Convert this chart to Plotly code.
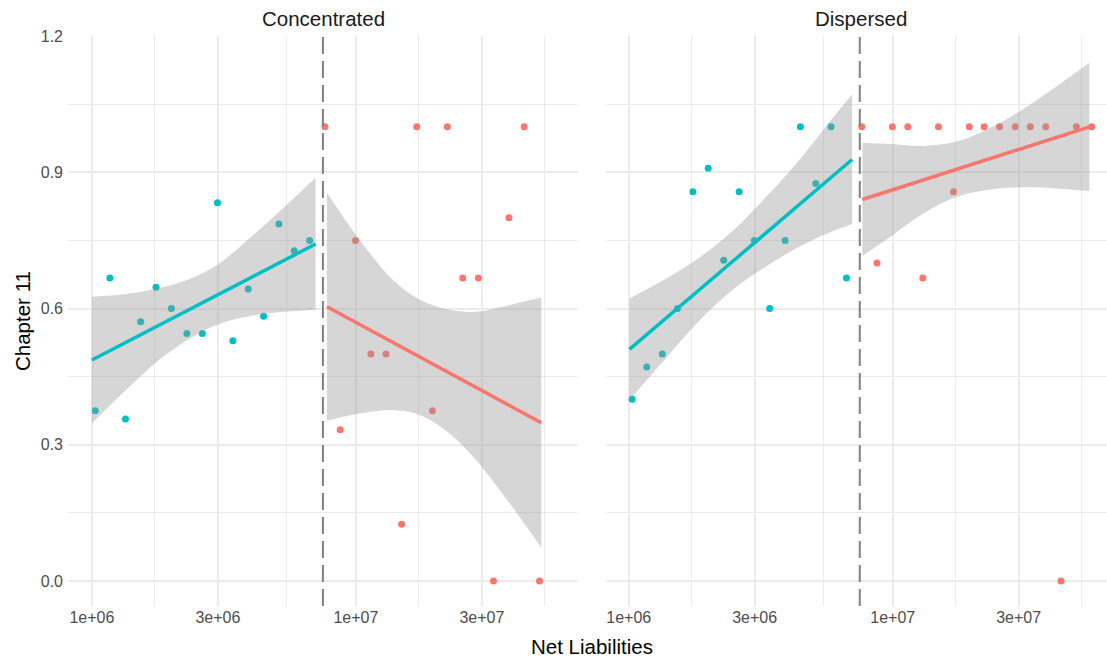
import numpy as np
import plotly.graph_objects as go

# ---- data -------------------------------------------------------------
CUTOFF = 7.5e6  # net-liabilities threshold

# binned net liabilities (bin centres, USD)
bins_conc = [1.03e6, 1.17e6, 1.34e6, 1.53e6, 1.75e6, 2.00e6, 2.29e6, 2.62e6,
             2.99e6, 3.42e6, 3.91e6, 4.47e6, 5.11e6, 5.84e6, 6.68e6,
             7.63e6, 8.72e6, 9.97e6, 1.14e7, 1.30e7, 1.49e7, 1.70e7, 1.95e7,
             2.22e7, 2.54e7, 2.91e7, 3.32e7, 3.80e7, 4.34e7, 4.96e7]
share_conc = [0.375, 0.667, 0.357, 0.571, 0.647, 0.600, 0.545, 0.545,
              0.833, 0.529, 0.643, 0.583, 0.786, 0.727, 0.750,
              1.000, 0.333, 0.750, 0.500, 0.500, 0.125, 1.000, 0.375,
              1.000, 0.667, 0.667, 0.000, 0.800, 1.000, 0.000]

bins_disp = [1.03e6, 1.17e6, 1.34e6, 1.53e6, 1.75e6, 2.00e6, 2.29e6, 2.62e6,
             2.99e6, 3.42e6, 3.91e6, 4.47e6, 5.11e6, 5.84e6, 6.68e6,
             7.63e6, 8.72e6, 9.97e6, 1.14e7, 1.30e7, 1.49e7, 1.70e7, 1.95e7,
             2.22e7, 2.54e7, 2.91e7, 3.32e7, 3.80e7, 4.34e7, 4.96e7, 5.67e7]
share_disp = [0.400, 0.471, 0.500, 0.600, 0.857, 0.909, 0.706, 0.857,
              0.750, 0.600, 0.750, 1.000, 0.875, 1.000, 0.667,
              1.000, 0.700, 1.000, 1.000, 0.667, 1.000, 0.857, 1.000,
              1.000, 1.000, 1.000, 1.000, 1.000, 0.000, 1.000, 1.000]

# linear fits (on log10 scale) with 95% confidence bands
fit_conc_below_x = [1.00e6, 1.349e6, 1.805e6, 2.414e6, 3.002e6, 3.843e6, 4.994e6, 7.036e6]
fit_conc_below_lo = [0.347, 0.421, 0.488, 0.538, 0.565, 0.582, 0.591, 0.597]
fit_conc_below_hi = [0.626, 0.632, 0.645, 0.668, 0.697, 0.748, 0.807, 0.888]
fit_conc_below_line = [0.4866, 0.742]

fit_conc_above_x = [7.77e6, 1.033e7, 1.381e7, 1.743e7, 2.264e7, 2.857e7, 3.821e7, 5.037e7]
fit_conc_above_lo = [0.353, 0.369, 0.3765, 0.3655, 0.325, 0.266, 0.171, 0.074]
fit_conc_above_hi = [0.855, 0.751, 0.663, 0.620, 0.597, 0.593, 0.608, 0.624]
fit_conc_above_line = [0.604, 0.3485]

fit_disp_below_x = [1.006e6, 1.398e6, 1.869e6, 2.499e6, 3.344e6, 4.472e6, 5.977e6, 7.017e6]
fit_disp_below_lo = [0.3985, 0.494, 0.576, 0.643, 0.694, 0.737, 0.771, 0.786]
fit_disp_below_hi = [0.622, 0.667, 0.714, 0.773, 0.848, 0.930, 1.022, 1.071]
fit_disp_below_line = [0.510, 0.928]

fit_disp_above_x = [7.677e6, 9.80e6, 1.311e7, 1.753e7, 2.344e7, 3.135e7, 4.194e7, 5.559e7]
fit_disp_above_lo = [0.7155, 0.758, 0.8095, 0.846, 0.862, 0.867, 0.8645, 0.8587]
fit_disp_above_hi = [0.965, 0.962, 0.958, 0.968, 0.998, 1.040, 1.090, 1.141]
fit_disp_above_line = [0.840, 1.000]

x_breaks = [1e6, 3e6, 1e7, 3e7]
x_labels = ["1e+06", "3e+06", "1e+07", "3e+07"]
y_breaks = [0.0, 0.3, 0.6, 0.9, 1.2]
y_labels = ["0.0", "0.3", "0.6", "0.9", "1.2"]

# ---- styling ----------------------------------------------------------
RED = "#F8766D"
CYAN = "#00BFC4"
BAND = "rgba(153,153,153,0.4)"
GRID = "#EBEBEB"
FONT = "Liberation Sans, Arial, sans-serif"

W, H = 1107, 662
ML, MT, MB = 68, 36, 56
PX_PER_DEC = 264.0
plot_w = W - ML

left_px = (0, 510)
right_px = (537.5, plot_w)

# ggplot-style minor breaks: midpoints between log breaks (extended one step)
lb = np.log10(x_breaks)
ext = np.concatenate([[lb[0] - (lb[1] - lb[0])], lb, [lb[-1] + (lb[-1] - lb[-2])]])
x_minor = list(10 ** ((ext[:-1] + ext[1:]) / 2))
y_minor = [0.15, 0.45, 0.75, 1.05]

fig = go.Figure()


def add_panel(xa, ya, xs, ys, fits):
    xs = np.asarray(xs)
    ys = np.asarray(ys)
    below = xs < CUTOFF
    fig.add_trace(go.Scatter(x=xs[below], y=ys[below], mode="markers",
                             marker=dict(color=CYAN, size=7), xaxis=xa, yaxis=ya,
                             hoverinfo="skip", showlegend=False))
    fig.add_trace(go.Scatter(x=xs[~below], y=ys[~below], mode="markers",
                             marker=dict(color=RED, size=7), xaxis=xa, yaxis=ya,
                             hoverinfo="skip", showlegend=False))
    for fx, lo, hi, line, col in fits:
        fig.add_trace(go.Scatter(x=fx, y=lo, mode="lines", line=dict(width=0, shape="spline"),
                                 xaxis=xa, yaxis=ya, hoverinfo="skip", showlegend=False))
        fig.add_trace(go.Scatter(x=fx, y=hi, mode="lines", line=dict(width=0, shape="spline"),
                                 fill="tonexty", fillcolor=BAND,
                                 xaxis=xa, yaxis=ya, hoverinfo="skip", showlegend=False))
    for fx, lo, hi, line, col in fits:
        fig.add_trace(go.Scatter(x=[fx[0], fx[-1]], y=line, mode="lines",
                                 line=dict(color=col, width=3.5),
                                 xaxis=xa, yaxis=ya, hoverinfo="skip", showlegend=False))


add_panel("x", "y", bins_conc, share_conc, [
    (fit_conc_below_x, fit_conc_below_lo, fit_conc_below_hi, fit_conc_below_line, CYAN),
    (fit_conc_above_x, fit_conc_above_lo, fit_conc_above_hi, fit_conc_above_line, RED),
])
add_panel("x2", "y2", bins_disp, share_disp, [
    (fit_disp_below_x, fit_disp_below_lo, fit_disp_below_hi, fit_disp_below_line, CYAN),
    (fit_disp_above_x, fit_disp_above_lo, fit_disp_above_hi, fit_disp_above_line, RED),
])

x_lo = 5.9095
tick_font = dict(family=FONT, size=16, color="#4D4D4D")
xaxis_common = dict(
    type="log", tickmode="array", tickvals=x_breaks, ticktext=x_labels,
    showgrid=True, gridcolor=GRID, gridwidth=2, zeroline=False, showline=False,
    ticks="", tickfont=tick_font,
    minor=dict(tickmode="array", tickvals=x_minor, showgrid=True,
               gridcolor=GRID, gridwidth=1.1, ticks=""),
    fixedrange=True,
)
yaxis_common = dict(
    range=[-0.055, 1.2], tickmode="array", tickvals=y_breaks, ticktext=y_labels,
    showgrid=True, gridcolor=GRID, gridwidth=2, zeroline=False, showline=False,
    ticks="", tickfont=tick_font,
    minor=dict(tickmode="array", tickvals=y_minor, showgrid=True,
               gridcolor=GRID, gridwidth=1.1, ticks=""),
    fixedrange=True,
)

fig.update_layout(
    width=W, height=H,
    margin=dict(l=ML, r=0, t=MT, b=MB, pad=0),
    paper_bgcolor="white", plot_bgcolor="white",
    showlegend=False,
    xaxis=dict(xaxis_common, domain=[left_px[0] / plot_w, left_px[1] / plot_w],
               range=[x_lo, x_lo + (left_px[1] - left_px[0]) / PX_PER_DEC], anchor="y"),
    xaxis2=dict(xaxis_common, domain=[right_px[0] / plot_w, 1.0],
                range=[5.912, 5.912 + (right_px[1] - right_px[0]) / PX_PER_DEC], anchor="y2"),
    yaxis=dict(yaxis_common, domain=[0, 1], anchor="x", ticklabelstandoff=4),
    yaxis2=dict(yaxis_common, domain=[0, 1], anchor="x2", showticklabels=False),
)

# cutoff marker in both panels
for xr in ("x", "x2"):
    fig.add_shape(type="line", xref=xr, yref="paper", x0=CUTOFF, x1=CUTOFF, y0=0, y1=1,
                  line=dict(color="#7F7F7F", width=2, dash="17px,7px"), layer="above")

# facet strips and axis titles
strip_font = dict(family=FONT, size=20.5, color="#1A1A1A")
fig.add_annotation(text="Concentrated", xref="paper", yref="paper",
                   x=(left_px[0] + left_px[1]) / 2 / plot_w, y=1, yshift=18,
                   showarrow=False, font=strip_font, xanchor="center", yanchor="middle")
fig.add_annotation(text="Dispersed", xref="paper", yref="paper",
                   x=(right_px[0] + 510 / 2) / plot_w, y=1, yshift=18,
                   showarrow=False, font=strip_font, xanchor="center", yanchor="middle")
title_font = dict(family=FONT, size=20.5, color="#000000")
fig.add_annotation(text="Net Liabilities", xref="paper", yref="paper",
                   x=(592 - ML) / plot_w, y=0, yshift=-40,
                   showarrow=False, font=title_font, xanchor="center", yanchor="middle")
fig.add_annotation(text="Chapter 11", xref="paper", yref="paper",
                   x=(22 - ML) / plot_w, y=0.5, textangle=-90,
                   showarrow=False, font=title_font, xanchor="center", yanchor="middle")

fig.write_html("out.html")
